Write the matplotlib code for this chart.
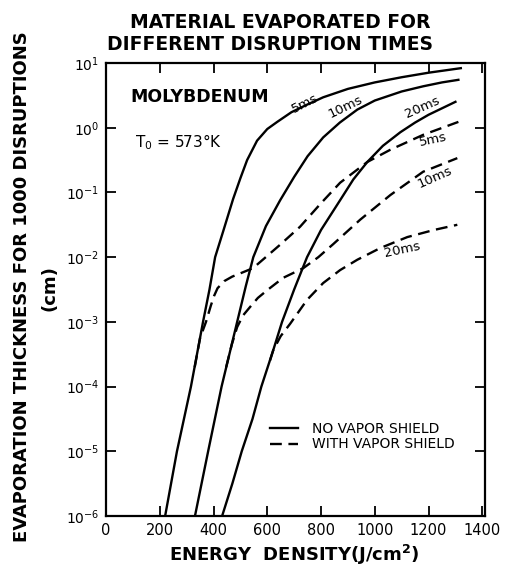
import numpy as np
import matplotlib
matplotlib.use("Agg")
import matplotlib.pyplot as plt

# energy density (J/cm2) and log10 of evaporated thickness (cm)
# no vapor shield
solid_5ms_E = [220, 264, 316, 361, 385, 406, 436, 473, 500, 525, 562, 600, 637, 690, 750, 808, 900, 1000, 1100, 1200, 1320]
solid_5ms_log = [-6, -5, -4, -3, -2.5, -2.0, -1.6, -1.1, -0.78, -0.5, -0.2, -0.02, 0.09, 0.24, 0.36, 0.47, 0.6, 0.7, 0.78, 0.85, 0.92]

solid_10ms_E = [331, 380, 430, 488, 520, 548, 595, 648, 700, 750, 808, 870, 935, 1000, 1100, 1180, 1250, 1311]
solid_10ms_log = [-6, -5, -4, -3, -2.45, -2.0, -1.52, -1.12, -0.76, -0.44, -0.15, 0.08, 0.28, 0.42, 0.56, 0.64, 0.70, 0.74]

solid_20ms_E = [432, 470, 505, 545, 578, 622, 655, 700, 748, 800, 871, 920, 972, 1030, 1095, 1150, 1200, 1250, 1300]
solid_20ms_log = [-6, -5.5, -5, -4.5, -4, -3.44, -3.0, -2.5, -2.0, -1.58, -1.12, -0.8, -0.53, -0.28, -0.07, 0.08, 0.2, 0.3, 0.40]

# with vapor shield
dash_5ms_E = [330, 350, 372, 390, 402, 415, 440, 470, 500, 547, 600, 650, 722, 797, 871, 972, 1058, 1180, 1311]
dash_5ms_log = [-3.7, -3.25, -3.0, -2.75, -2.6, -2.48, -2.37, -2.3, -2.25, -2.17, -1.98, -1.80, -1.53, -1.18, -0.85, -0.53, -0.34, -0.11, 0.09]

dash_10ms_E = [447, 468, 488, 510, 536, 565, 600, 659, 734, 790, 845, 946, 1058, 1180, 1307]
dash_10ms_log = [-3.7, -3.35, -3.08, -2.9, -2.77, -2.63, -2.51, -2.32, -2.17, -2.0, -1.8, -1.42, -1.04, -0.68, -0.47]

dash_20ms_E = [610, 622, 650, 685, 748, 808, 871, 935, 1020, 1121, 1220, 1307]
dash_20ms_log = [-3.6, -3.44, -3.22, -3.03, -2.66, -2.40, -2.20, -2.04, -1.86, -1.69, -1.58, -1.50]

x_ticks = [0, 200, 400, 600, 800, 1000, 1200, 1400]
y_exps = [1, 0, -1, -2, -3, -4, -5, -6]

plt.rcParams['font.family'] = ['DejaVu Sans']

fig = plt.figure(figsize=(5.06, 5.68), dpi=100)
ax = fig.add_axes([106 / 506, 1 - 516 / 568, 379 / 506, 453 / 568])

lw = 1.7
dash = (0, (5, 2.8))
ax.plot(solid_5ms_E, 10.0 ** np.array(solid_5ms_log), color='black', lw=lw, label='NO VAPOR SHIELD')
ax.plot(solid_10ms_E, 10.0 ** np.array(solid_10ms_log), color='black', lw=lw)
ax.plot(solid_20ms_E, 10.0 ** np.array(solid_20ms_log), color='black', lw=lw)
ax.plot(dash_5ms_E, 10.0 ** np.array(dash_5ms_log), color='black', lw=lw, ls=dash, label='WITH VAPOR SHIELD')
ax.plot(dash_10ms_E, 10.0 ** np.array(dash_10ms_log), color='black', lw=lw, ls=dash)
ax.plot(dash_20ms_E, 10.0 ** np.array(dash_20ms_log), color='black', lw=lw, ls=dash)

ax.set_yscale('log')
ax.set_xlim(0, 1410)
ax.set_ylim(1e-6, 1e1)
ax.set_xticks(x_ticks)
ax.set_xticklabels([str(t) for t in x_ticks], fontsize=10.5)
ax.set_yticks([10.0 ** e for e in y_exps])
ax.set_yticklabels([r'$10^{%d}$' % e for e in y_exps], fontsize=10)
ax.minorticks_off()
ax.tick_params(direction='in', top=True, right=True, length=7, width=1.3, pad=5)
for sp in ax.spines.values():
    sp.set_linewidth(1.6)

# curve labels
ax.text(741, 2.4, '5ms', rotation=27, fontsize=9.5, ha='center', va='center')
ax.text(890, 2.1, '10ms', rotation=26, fontsize=9.5, ha='center', va='center')
ax.text(1177, 2.1, '20ms', rotation=24, fontsize=9.5, ha='center', va='center')
ax.text(1218, 0.65, '5ms', rotation=12, fontsize=9.5, ha='center', va='center')
ax.text(1225, 0.17, '10ms', rotation=24, fontsize=9.5, ha='center', va='center')
ax.text(1102, 0.013, '20ms', rotation=12, fontsize=9.5, ha='center', va='center')

ax.text(0.063, 0.925, 'MOLYBDENUM', transform=ax.transAxes, fontsize=12.5,
        fontweight='bold', ha='left', va='center')
ax.text(0.077, 0.826, r'T$_0$ = 573°K', transform=ax.transAxes, fontsize=11,
        ha='left', va='center')

ax.legend(loc='center left', bbox_to_anchor=(0.40, 0.175), frameon=False,
          fontsize=10, handlelength=2.0, handletextpad=1.0, labelspacing=0.1)

fig.text(280 / 506, 1 - 22 / 568, 'MATERIAL EVAPORATED FOR', fontsize=13.5,
         fontweight='bold', ha='center', va='center')
fig.text(270 / 506, 1 - 44 / 568, 'DIFFERENT DISRUPTION TIMES', fontsize=13.5,
         fontweight='bold', ha='center', va='center')
fig.text(22 / 506, 1 - 287 / 568, 'EVAPORATION THICKNESS FOR 1000 DISRUPTIONS',
         rotation=90, fontsize=13, fontweight='bold', ha='center', va='center')
fig.text(50 / 506, 1 - 288 / 568, '(cm)', rotation=90, fontsize=13,
         fontweight='bold', ha='center', va='center')
fig.text(294 / 506, 1 - 555 / 568, r'ENERGY  DENSITY(J/cm$^{\mathbf{2}}$)', fontsize=13,
         fontweight='bold', ha='center', va='center')

fig.savefig('out.png', dpi=100)
